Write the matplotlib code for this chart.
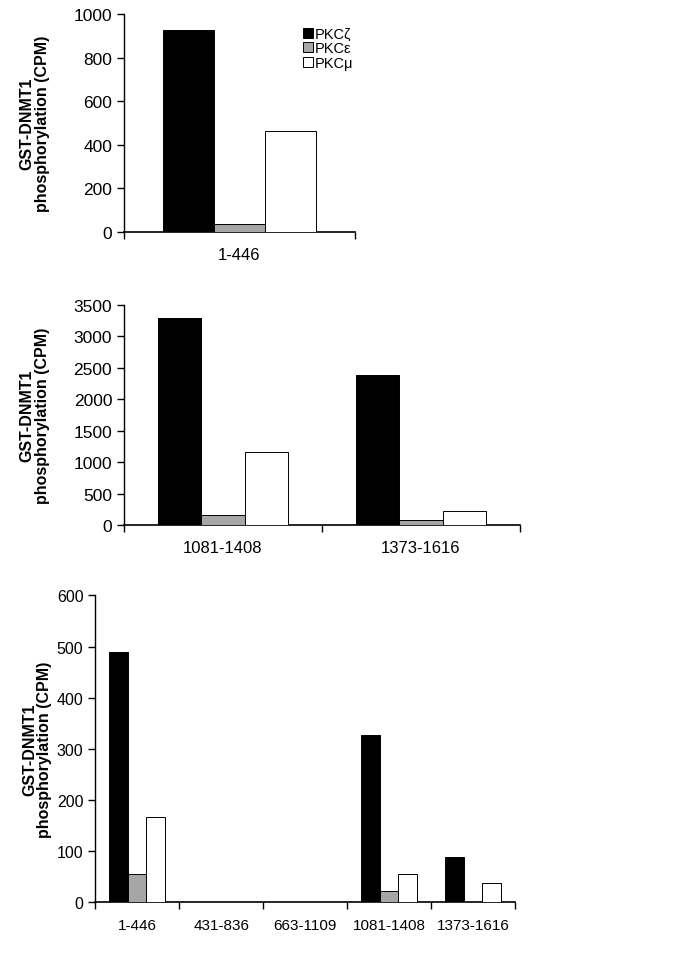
import numpy as np
import matplotlib.pyplot as plt
from matplotlib.patches import Patch

plt.rcParams['font.family'] = ['Liberation Sans', 'DejaVu Sans']

# panel A
cats_a = ["1-446"]
zeta_a = [930]
eps_a = [35]
mu_a = [465]

# panel B
cats_b = ["1081-1408", "1373-1616"]
zeta_b = [3300, 2380]
eps_b = [160, 80]
mu_b = [1170, 220]

# panel C
cats_c = ["1-446", "431-836", "663-1109", "1081-1408", "1373-1616"]
zeta_c = [490, 0, 0, 327, 88]
eps_c = [55, 0, 0, 22, 0]
mu_c = [167, 0, 0, 55, 37]

series_names = ["PKCζ", "PKCε", "PKCμ"]
colors = ["black", "#a6a6a6", "white"]


def drawPanel(ax, cats, series, ymax, ystep, fs, xfs, lpad):
    x = np.arange(len(cats))
    w = 0.22
    for i, vals in enumerate(series):
        ax.bar(x + (i - 1) * w, vals, width=w, color=colors[i],
               edgecolor="black", linewidth=0.7, zorder=3)
    ax.set_xlim(-0.5, len(cats) - 0.5)
    ax.set_ylim(0, ymax)
    ax.set_yticks(np.arange(0, ymax + 1, ystep))
    ax.set_xticks(np.arange(-0.5, len(cats)), minor=False)
    ax.set_xticklabels([])
    ax.set_xticks(x, minor=True)
    ax.set_xticklabels(cats, minor=True, fontsize=xfs)
    ax.tick_params(axis="x", which="minor", length=0, pad=11)
    ax.tick_params(axis="x", which="major", length=5, width=1, direction="out")
    ax.tick_params(axis="y", length=5, width=1, direction="out", labelsize=fs, colors="black")
    for s in ["top", "right"]:
        ax.spines[s].set_visible(False)
    ax.spines["left"].set_linewidth(1)
    ax.spines["bottom"].set_linewidth(1.2)
    ax.set_ylabel("GST-DNMT1\nphosphorylation (CPM)", fontsize=11.5,
                  fontweight="bold", labelpad=lpad, linespacing=1.05)


fig = plt.figure(figsize=(6.85, 9.62), dpi=100)

ax1 = fig.add_axes([0.181, 0.758, 0.337, 0.226])
drawPanel(ax1, cats_a, [zeta_a, eps_a, mu_a], 1000, 200, 12.5, 12, 17)
handles = [Patch(facecolor=c, edgecolor="black", linewidth=0.7) for c in colors]
ax1.legend(handles, series_names, loc="upper left", bbox_to_anchor=(0.75, 0.97),
           frameon=False, fontsize=10.5, handlelength=0.7, handleheight=0.7,
           handletextpad=0.1, labelspacing=0.05, borderaxespad=0)

ax2 = fig.add_axes([0.181, 0.453, 0.578, 0.229])
drawPanel(ax2, cats_b, [zeta_b, eps_b, mu_b], 3500, 500, 12.5, 12, 17)

ax3 = fig.add_axes([0.139, 0.061, 0.613, 0.319])
drawPanel(ax3, cats_c, [zeta_c, eps_c, mu_c], 600, 100, 11.5, 11, 3)

fig.savefig("out.png", dpi=100)
